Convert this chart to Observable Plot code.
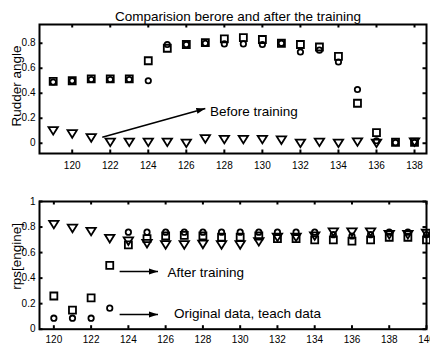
<!DOCTYPE html>
<html><head><meta charset="utf-8">
<script src="https://cdn.jsdelivr.net/npm/d3@7"></script>
<script src="https://cdn.jsdelivr.net/npm/@observablehq/plot@0.6"></script>
<style>
body{margin:0;background:#fff;}
#chart{position:relative;width:430px;height:344px;background:#fff;}
#chart svg{position:absolute;left:0;display:block;}
</style></head><body><div id="chart"></div>
<script>
const title = "Comparision berore and after the training";
const topYLabel = "Rudder angle";
const botYLabel = "rps[engine]";

// Top panel: rudder angle
const xTop = [119,120,121,122,123,124,125,126,127,128,129,130,131,132,133,134,135,136,137,138];
const topOriginal = [0.49,0.50,0.51,0.51,0.51,0.50,0.79,0.79,0.80,0.795,0.795,0.79,0.80,0.73,0.745,0.65,0.43,0.02,0.005,0.005];
const topAfter = [0.495,0.50,0.515,0.515,0.515,0.66,0.76,0.79,0.805,0.835,0.845,0.83,0.80,0.79,0.77,0.695,0.32,0.085,0.008,0.008];
const topBefore = [0.10,0.075,0.043,0.008,0.008,0.008,0.008,0.0,0.035,0.03,0.03,0.03,0.025,0.0,0.008,0.0,0.01,0.0,null,0.01];

// Bottom panel: rps engine
const xBot = [120,121,122,123,124,125,126,127,128,129,130,131,132,133,134,135,136,137,138,139,140];
const botOriginal = [0.086,0.086,0.086,0.165,0.76,0.76,0.76,0.76,0.76,0.76,0.76,0.76,0.76,0.76,0.76,0.74,0.73,0.74,0.76,0.76,0.74];
const botAfter = [0.26,0.15,0.245,0.50,0.66,0.71,0.73,0.735,0.73,0.72,0.72,0.73,0.71,0.71,0.70,0.70,0.69,0.70,0.72,0.72,0.70];
const botBefore = [0.82,0.79,0.765,0.71,0.69,0.67,0.66,0.66,0.665,0.66,0.66,0.685,0.72,0.72,0.73,0.76,0.76,0.76,0.74,0.74,0.75];

// Ticks
const topXTicks = [120,122,124,126,128,130,132,134,136,138];
const topYTicks = [0,0.2,0.4,0.6,0.8];
const botXTicks = [120,122,124,126,128,130,132,134,136,138,140];
const botYTicks = [0,0.2,0.4,0.6,0.8,1];

// Annotations (data units)
const topArrows = [{x1:121.58, y1:0.048, x2:127.0, y2:0.278}];
const topNotes = [{x:127.24, y:0.25, text:"Before training"}];
const botArrows = [{x1:123.53, y1:0.452, x2:125.59, y2:0.452},{x1:123.53, y1:0.115, x2:125.59, y2:0.115}];
const botNotes = [{x:126.1, y:0.44, text:"After training"},{x:126.45, y:0.125, text:"Original data, teach data"}];

const FONT = "'Liberation Sans', Arial, Helvetica, sans-serif";

const symSquare = {draw(ctx){const s=3.5; ctx.moveTo(-s,-s); ctx.lineTo(s,-s); ctx.lineTo(s,s); ctx.lineTo(-s,s); ctx.closePath();}};
const symCircle = {draw(ctx){const r=2.7; ctx.moveTo(r,0); ctx.arc(0,0,r,0,2*Math.PI); ctx.closePath();}};
const symTriDown = {draw(ctx){ctx.moveTo(-4.7,-3.7); ctx.lineTo(4.7,-3.7); ctx.lineTo(0,3.9); ctx.closePath();}};

function filledArrow(color) {
  const ns = "http://www.w3.org/2000/svg";
  const m = document.createElementNS(ns, "marker");
  m.setAttribute("viewBox", "0 -5 10 10");
  m.setAttribute("markerWidth", "9");
  m.setAttribute("markerHeight", "9");
  m.setAttribute("markerUnits", "userSpaceOnUse");
  m.setAttribute("refX", "10");
  m.setAttribute("refY", "0");
  m.setAttribute("orient", "auto");
  const p = document.createElementNS(ns, "path");
  p.setAttribute("d", "M0,-3.4L10,0L0,3.4Z");
  p.setAttribute("fill", "black");
  p.setAttribute("stroke", "none");
  m.appendChild(p);
  return m;
}

function panel(cfg) {
  const W = 430, ml = 39, mr = 4;
  const fw = W - ml - mr, fh = cfg.height - cfg.mt - cfg.mb;
  const tl = 3.5;
  const rows = cfg.xs.map((x, i) => ({x, orig: cfg.orig[i], after: cfg.after[i], before: cfg.before[i]}));
  const fmt = d => String(d);
  const marks = [
    Plot.axisX(cfg.xTicks, {tickSize: 0, tickPadding: cfg.xPad, tickFormat: fmt, label: null, fontSize: 10}),
    Plot.axisY(cfg.yTicks, {tickSize: 0, tickPadding: 4, tickFormat: fmt, label: null, fontSize: 10}),
    Plot.tickY(cfg.yTicks, {y: d => d, insetRight: fw - tl, stroke: "black", strokeWidth: 2}),
    Plot.tickY(cfg.yTicks, {y: d => d, insetLeft: fw - tl, stroke: "black", strokeWidth: 2}),
    Plot.tickX(cfg.xTicks, {x: d => d, insetTop: fh - tl, stroke: "black", strokeWidth: 2}),
    Plot.tickX(cfg.xTicks, {x: d => d, insetBottom: fh - tl, stroke: "black", strokeWidth: 2}),
    Plot.frame({stroke: "black", strokeWidth: 2}),
    Plot.dot(rows, {x: "x", y: "after", symbol: symSquare, r: 3, stroke: "black", strokeWidth: 1.8, fill: "none"}),
    Plot.dot(rows, {x: "x", y: "orig", symbol: symCircle, r: 3, stroke: "black", strokeWidth: 1.8, fill: "none"}),
    Plot.dot(rows, {x: "x", y: "before", symbol: symTriDown, r: 3, stroke: "black", strokeWidth: 1.8, fill: "none"}),
    Plot.link(cfg.arrows, {x1: "x1", y1: "y1", x2: "x2", y2: "y2", stroke: "black", strokeWidth: 1.6, markerEnd: filledArrow}),
    Plot.text(cfg.notes, {x: "x", y: "y", text: "text", textAnchor: "start", fontSize: 13.5, fill: "black"}),
    Plot.text([cfg.yLabel], {frameAnchor: "left", rotate: -90, dx: -23, dy: cfg.labelDy, textAnchor: "middle", fontSize: 13.5, fill: "black"})
  ];
  if (cfg.title) {
    marks.push(Plot.text([cfg.title], {frameAnchor: "top", lineAnchor: "bottom", dx: 5, dy: -3.5, fontSize: 13.5, fill: "black"}));
  }
  return Plot.plot({
    width: W, height: cfg.height,
    marginTop: cfg.mt, marginBottom: cfg.mb, marginLeft: ml, marginRight: mr,
    x: {domain: cfg.xDomain, axis: null},
    y: {domain: cfg.yDomain, axis: null},
    style: {fontFamily: FONT, fontSize: "10px", color: "black", background: "white", overflow: "visible"},
    marks
  });
}

const p1 = panel({
  xs: xTop, orig: topOriginal, after: topAfter, before: topBefore,
  xDomain: [118.28, 138.63], yDomain: [-0.082, 0.95],
  xTicks: topXTicks, yTicks: topYTicks, xPad: 8,
  height: 172, mt: 24, mb: 19,
  arrows: topArrows, notes: topNotes, yLabel: topYLabel, labelDy: -3, title
});
const p2 = panel({
  xs: xBot, orig: botOriginal, after: botAfter, before: botBefore,
  xDomain: [119.23, 140], yDomain: [0, 1],
  xTicks: botXTicks, yTicks: botYTicks, xPad: 6.5,
  height: 172, mt: 29, mb: 15.3,
  arrows: botArrows, notes: botNotes, yLabel: botYLabel, labelDy: -9
});
p1.style.top = "0px";
p2.style.top = "172px";
const chart = document.getElementById("chart");
chart.appendChild(p1);
chart.appendChild(p2);
</script>
</body></html>
